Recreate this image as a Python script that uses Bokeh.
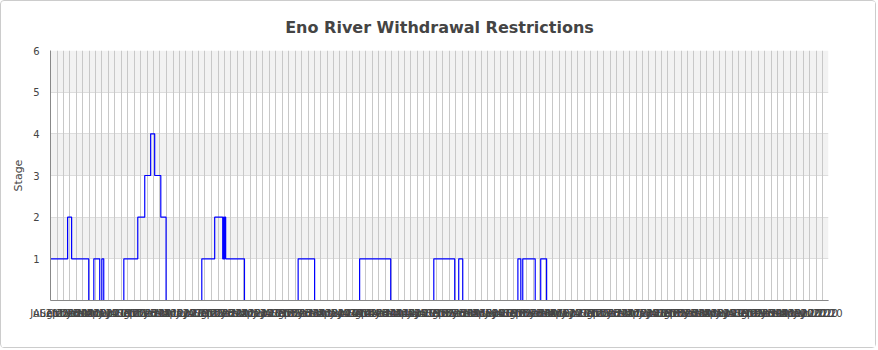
import pandas as pd
from bokeh.plotting import figure
from bokeh.models import MonthsTicker, DatetimeTickFormatter, FixedTicker, Range1d
from bokeh.embed import file_html
from bokeh.resources import INLINE

# Change points of the withdrawal restriction stage
change_dates = [
    "2010-07-01", "2010-09-20", "2010-10-09", "2010-12-29", "2011-01-22",
    "2011-02-19", "2011-03-01", "2011-03-10", "2011-06-13", "2011-08-18",
    "2011-09-20", "2011-10-18", "2011-11-06", "2011-12-05", "2011-12-30",
    "2012-06-16", "2012-08-16", "2012-09-23", "2012-09-27", "2012-09-30",
    "2012-10-03", "2012-10-07", "2013-01-04", "2013-09-15", "2013-12-02",
    "2014-07-03", "2014-11-27", "2015-06-19", "2015-09-26", "2015-10-15",
    "2015-11-03", "2016-07-21", "2016-08-04", "2016-08-13", "2016-10-11",
    "2016-11-06", "2016-12-04", "2020-07-30",
]
stages = [
    1, 2, 1, 0, 1,
    0, 1, 0, 1, 2,
    3, 4, 3, 2, 0,
    1, 2, 1, 2, 1,
    2, 1, 0, 1, 0,
    1, 0, 1, 0, 1,
    0, 1, 0, 1, 0,
    1, 0, 0,
]
y_ticks = [1, 2, 3, 4, 5, 6]

dates = pd.to_datetime(change_dates)

p = figure(
    width=876, height=348, x_axis_type="datetime",
    title="Eno River Withdrawal Restrictions",
    output_backend="svg", toolbar_location=None,
    x_range=Range1d(dates[0], dates[-1]), y_range=Range1d(0, 6),
    min_border_left=49, min_border_right=49, min_border_top=49, min_border_bottom=49,
)
p.styles = {"border": "1px solid #cccccc", "border-radius": "4px"}

p.step(dates, stages, mode="after", line_color="#0000ff", line_width=1.2)

p.title.align = "center"
p.title.text_font = "DejaVu Sans"
p.title.text_font_size = "16px"
p.title.text_color = "#444444"
p.title.text_font_style = "bold"
p.title.standoff = 27
p.title.text_line_height = 0.9

p.xaxis.ticker = MonthsTicker(months=list(range(12)))
p.xaxis.formatter = DatetimeTickFormatter(months="%b %Y", years="%b %Y", days="%b %Y")
p.yaxis.ticker = FixedTicker(ticks=y_ticks)
p.yaxis.axis_label = "Stage"

for ax in (p.xaxis, p.yaxis):
    ax.major_tick_line_color = None
    ax.minor_tick_line_color = None
    ax.axis_line_color = "#888888"
    ax.major_label_text_font = "DejaVu Sans"
    ax.major_label_text_font_size = "10px"
    ax.major_label_text_color = "#444444"
    ax.axis_label_text_font = "DejaVu Sans"
    ax.axis_label_text_font_size = "11px"
    ax.axis_label_text_font_style = "normal"
    ax.axis_label_text_color = "#444444"
p.xaxis.major_tick_out = 0
p.xaxis.major_label_standoff = 7

xg = p.xgrid[0]
yg = p.ygrid[0]
xg.grid_line_color = "#c8c8c8"
yg.grid_line_color = "#dddddd"
yg.band_fill_color = "#f2f2f2"
yg.band_fill_alpha = 1.0
p.center = [yg, xg]
p.outline_line_color = None

open("out.html", "w").write(file_html(p, INLINE))
